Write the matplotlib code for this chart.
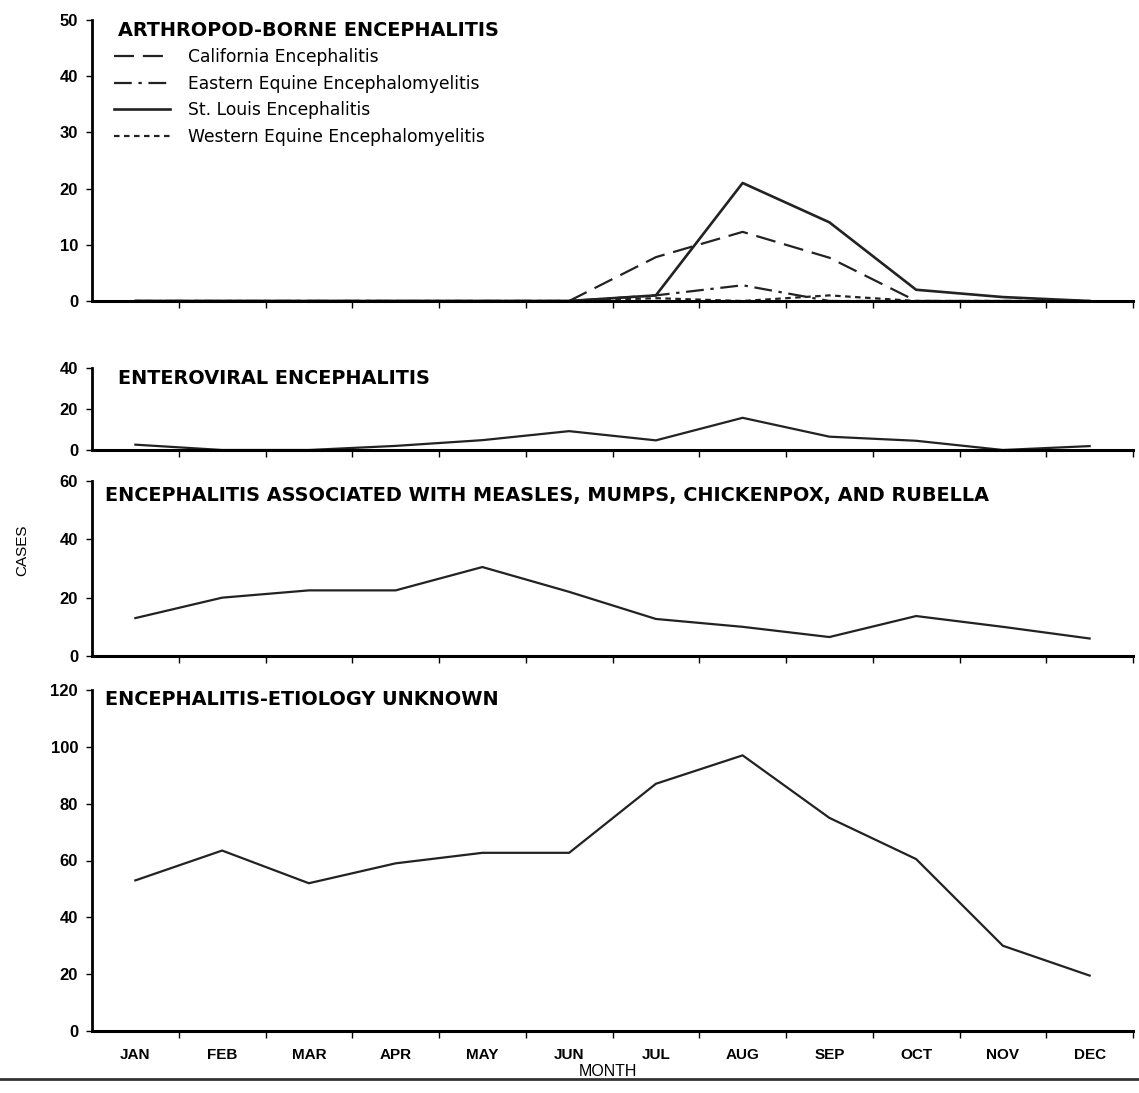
import matplotlib
matplotlib.use("Agg")
import matplotlib.pyplot as plt
from matplotlib.lines import Line2D

plt.rcParams['font.family'] = ['Liberation Sans', 'DejaVu Sans']

months = ['JAN', 'FEB', 'MAR', 'APR', 'MAY', 'JUN',
          'JUL', 'AUG', 'SEP', 'OCT', 'NOV', 'DEC']

# arthropod-borne
california = [0, 0, 0, 0, 0, 0, 7.8, 12.3, 7.7, 0, 0, 0]
eastern = [0, 0, 0, 0, 0, 0, 1, 2.8, 0, 0, 0, 0]
st_louis = [0, 0, 0, 0, 0, 0, 1, 21, 14, 2, 0.7, 0]
western = [0, 0, 0, 0, 0, 0, 0.5, 0, 1, 0, 0, 0]

enteroviral = [2.6, 0, 0, 2, 4.8, 9.2, 4.7, 15.7, 6.5, 4.5, 0, 1.9]
measles_etc = [13, 20, 22.5, 22.5, 30.5, 22, 12.7, 10, 6.5, 13.7, 10, 6]
unknown = [53, 63.5, 52, 59, 62.7, 62.7, 87, 97, 75, 60.5, 30, 19.5]

W, H = 1139, 1093
fig = plt.figure(figsize=(W / 100, H / 100), dpi=100)

x = [i + 0.5 for i in range(12)]
title_font = dict(family='DejaVu Sans', fontsize=13.9, fontweight='bold',
                  va='center', ha='left')


def make_axes(top_px, bot_px, ymax, step):
    ax = fig.add_axes([92 / W, 1 - bot_px / H, 1041 / W, (bot_px - top_px) / H])
    ax.set_xlim(0, 12)
    ax.set_ylim(0, ymax)
    ax.set_yticks(range(0, ymax + 1, step))
    ax.set_xticks(range(1, 13))
    ax.set_xticklabels([])
    for s in ['top', 'right']:
        ax.spines[s].set_visible(False)
    ax.spines['left'].set_linewidth(2)
    ax.spines['bottom'].set_linewidth(2.2)
    ax.tick_params(axis='y', length=4, width=1, labelsize=12, pad=6)
    ax.tick_params(axis='x', length=5, width=1)
    for t in ax.get_yticklabels():
        t.set_fontweight('bold')
    return ax


lw = 1.6

ax1 = make_axes(20, 301, 50, 10)
l_cal, = ax1.plot(x, california, color='#222222', lw=lw, dashes=(9, 4))
l_eee, = ax1.plot(x, eastern, color='#222222', lw=lw, dashes=(8, 3, 1.5, 3))
l_sle, = ax1.plot(x, st_louis, color='#222222', lw=lw + 0.3)
l_wee, = ax1.plot(x, western, color='#222222', lw=lw, dashes=(2.5, 2))
ax1.text(0.3, 48.2, 'ARTHROPOD-BORNE ENCEPHALITIS', **title_font)
leg = ax1.legend([l_cal, l_eee, l_sle, l_wee],
                 ['California Encephalitis', 'Eastern Equine Encephalomyelitis',
                  'St. Louis Encephalitis', 'Western Equine Encephalomyelitis'],
                 loc='upper left', bbox_to_anchor=(0.006, 0.955), frameon=False,
                 handlelength=3.3, handletextpad=1.05, labelspacing=0.5,
                 prop={'size': 12.3, 'family': 'DejaVu Sans'})

ax2 = make_axes(368, 450, 40, 20)
ax2.plot(x, enteroviral, color='#222222', lw=lw)
ax2.text(0.3, 35, 'ENTEROVIRAL ENCEPHALITIS', **title_font)

ax3 = make_axes(481, 656, 60, 20)
ax3.plot(x, measles_etc, color='#222222', lw=lw)
ax3.text(0.15, 55, 'ENCEPHALITIS ASSOCIATED WITH MEASLES, MUMPS, CHICKENPOX, AND RUBELLA',
         **title_font)

ax4 = make_axes(690, 1031, 120, 20)
ax4.plot(x, unknown, color='#222222', lw=lw)
ax4.text(0.15, 116.5, 'ENCEPHALITIS-ETIOLOGY UNKNOWN', **title_font)
ax4.set_xticks(x, minor=True)
ax4.set_xticklabels(months, minor=True, fontsize=11, fontweight='bold')
ax4.tick_params(axis='x', which='minor', length=0, pad=12)

fig.text(608 / W, 1 - 1071 / H, 'MONTH', fontsize=11.5, ha='center', va='center')
fig.text(22 / W, 1 - 550 / H, 'CASES', rotation=90, fontsize=11,
         ha='center', va='center')

# page rule along the bottom
fig.add_artist(Line2D([0, 1], [1 - 1079 / H, 1 - 1079 / H], color='#333333', lw=2))

fig.savefig('out.png', dpi=100)
